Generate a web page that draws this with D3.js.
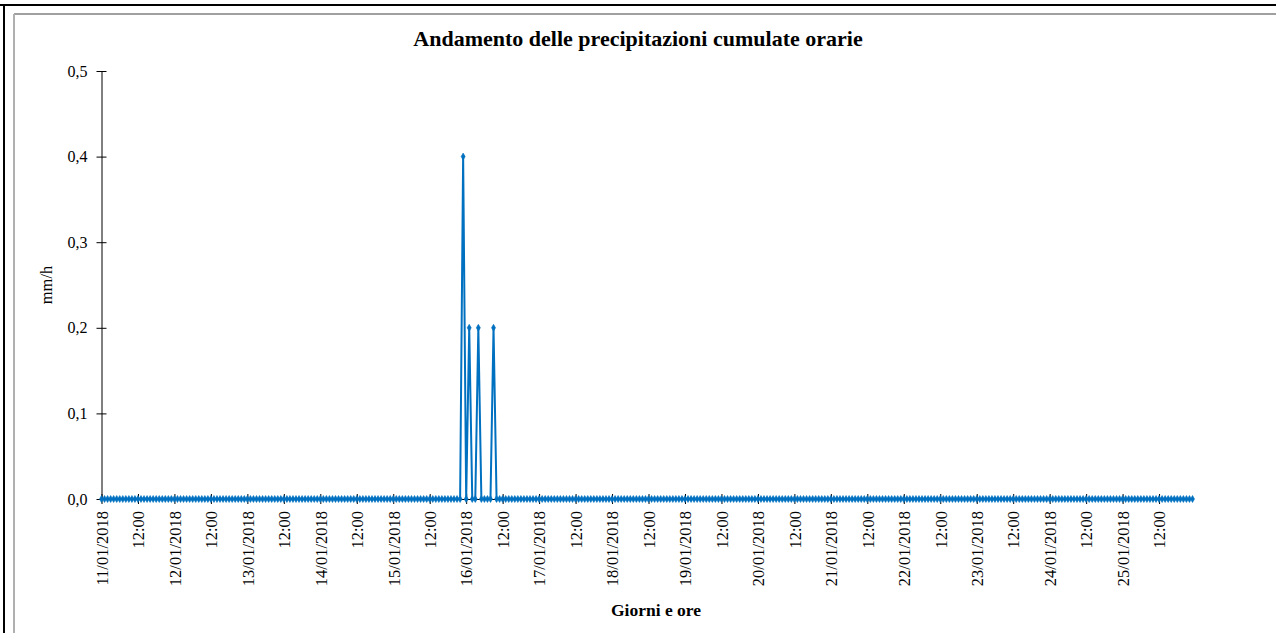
<!DOCTYPE html>
<html>
<head>
<meta charset="utf-8">
<script src="https://cdn.jsdelivr.net/npm/d3@7/dist/d3.min.js"></script>
<style>
  html, body { margin: 0; padding: 0; background: #fff; }
  svg { display: block; }
  text { font-family: "Liberation Serif", "Times New Roman", serif; fill: #000; }
</style>
</head>
<body>
<svg id="chart" width="1276" height="633"></svg>
<script>
// ---- DATA ----
const chartTitle = "Andamento delle precipitazioni cumulate orarie";
const yAxisTitle = "mm/h";
const xAxisTitle = "Giorni e ore";
// hourly values (mm/h), one row per day: 11/01 ... 25/01
const rain = [
  0,0,0,0,0,0,0,0,0,0,0,0,0,0,0,0,0,0,0,0,0,0,0,0, // 11/01
  0,0,0,0,0,0,0,0,0,0,0,0,0,0,0,0,0,0,0,0,0,0,0,0, // 12/01
  0,0,0,0,0,0,0,0,0,0,0,0,0,0,0,0,0,0,0,0,0,0,0,0, // 13/01
  0,0,0,0,0,0,0,0,0,0,0,0,0,0,0,0,0,0,0,0,0,0,0,0, // 14/01
  0,0,0,0,0,0,0,0,0,0,0,0,0,0,0,0,0,0,0,0,0,0,0,0.4, // 15/01
  0,0.2,0,0,0.2,0,0,0,0,0.2,0,0,0,0,0,0,0,0,0,0,0,0,0,0, // 16/01
  0,0,0,0,0,0,0,0,0,0,0,0,0,0,0,0,0,0,0,0,0,0,0,0, // 17/01
  0,0,0,0,0,0,0,0,0,0,0,0,0,0,0,0,0,0,0,0,0,0,0,0, // 18/01
  0,0,0,0,0,0,0,0,0,0,0,0,0,0,0,0,0,0,0,0,0,0,0,0, // 19/01
  0,0,0,0,0,0,0,0,0,0,0,0,0,0,0,0,0,0,0,0,0,0,0,0, // 20/01
  0,0,0,0,0,0,0,0,0,0,0,0,0,0,0,0,0,0,0,0,0,0,0,0, // 21/01
  0,0,0,0,0,0,0,0,0,0,0,0,0,0,0,0,0,0,0,0,0,0,0,0, // 22/01
  0,0,0,0,0,0,0,0,0,0,0,0,0,0,0,0,0,0,0,0,0,0,0,0, // 23/01
  0,0,0,0,0,0,0,0,0,0,0,0,0,0,0,0,0,0,0,0,0,0,0,0, // 24/01
  0,0,0,0,0,0,0,0,0,0,0,0,0,0,0,0,0,0,0,0,0,0,0,0  // 25/01
];
const xTickLabels = [
  "11/01/2018","12:00","12/01/2018","12:00","13/01/2018","12:00",
  "14/01/2018","12:00","15/01/2018","12:00","16/01/2018","12:00",
  "17/01/2018","12:00","18/01/2018","12:00","19/01/2018","12:00",
  "20/01/2018","12:00","21/01/2018","12:00","22/01/2018","12:00",
  "23/01/2018","12:00","24/01/2018","12:00","25/01/2018","12:00"
];
const tickEvery = 12; // one label every 12 hourly categories
const yTicks = [0, 0.1, 0.2, 0.3, 0.4, 0.5];

// ---- CHART ----
const svg = d3.select("#chart");
const W = 1276, H = 633;
const m = { left: 101.5, right: 1192.5, top: 71, bottom: 499 };

// frames (cropped chart area borders)
svg.append("line").attr("x1", 0).attr("x2", W).attr("y1", 5).attr("y2", 5)
  .attr("stroke", "#000").attr("stroke-width", 2);
svg.append("line").attr("x1", 4).attr("x2", 4).attr("y1", 4).attr("y2", H)
  .attr("stroke", "#000").attr("stroke-width", 2);
svg.append("line").attr("x1", 14).attr("x2", W).attr("y1", 14).attr("y2", 14)
  .attr("stroke", "#a0a0a0").attr("stroke-width", 2);
svg.append("line").attr("x1", 14).attr("x2", 14).attr("y1", 14).attr("y2", H)
  .attr("stroke", "#b0b0b0").attr("stroke-width", 2);

const x = d3.scaleLinear().domain([0, rain.length - 1]).range([m.left, m.right]);
const y = d3.scaleLinear().domain([0, 0.5]).range([m.bottom, m.top]);
const fmt = v => d3.format(".1f")(v).replace(".", ",");

// Y axis
const yAxis = d3.axisLeft(y).tickValues(yTicks).tickFormat(fmt).tickSizeInner(5).tickSizeOuter(0).tickPadding(10);
const gy = svg.append("g").attr("transform", `translate(${m.left},0)`).call(yAxis);
gy.select(".domain").attr("stroke", "#000");
gy.selectAll(".tick line").attr("x2", -5).attr("x1", 5).attr("stroke", "#000");
gy.selectAll("text").style("font-family", "Liberation Serif").style("font-size", "16px").attr("x", -14);

// X axis
const tickIdx = xTickLabels.map((_, i) => i * tickEvery);
const xAxis = d3.axisBottom(x).tickValues(tickIdx).tickFormat((d, i) => xTickLabels[i]).tickSizeInner(5).tickSizeOuter(0);
const gx = svg.append("g").attr("transform", `translate(0,${m.bottom})`).call(xAxis);
gx.select(".domain").attr("stroke", "#000");
gx.selectAll(".tick line").attr("y1", -5).attr("y2", 5).attr("stroke", "#000");
gx.selectAll("text")
  .style("font-family", "Liberation Serif").style("font-size", "16.5px")
  .attr("text-anchor", "end")
  .attr("transform", "rotate(-90)")
  .attr("x", -12).attr("y", 0).attr("dy", "0.35em");

// Line
const line = d3.line().x((d, i) => x(i)).y(d => y(d));
svg.append("path").datum(rain)
  .attr("d", line).attr("fill", "none")
  .attr("stroke", "#0070C0").attr("stroke-width", 2).attr("stroke-linejoin", "round");

// Markers (small diamonds)
const sym = d3.symbol().type(d3.symbolDiamond).size(14);
svg.append("g").selectAll("path").data(rain).join("path")
  .attr("d", sym)
  .attr("transform", (d, i) => `translate(${x(i)},${y(d)})`)
  .attr("fill", "#0070C0").attr("stroke", "#0070C0").attr("stroke-width", 0.6);

// Titles
svg.append("text").attr("x", 638).attr("y", 46).attr("text-anchor", "middle")
  .style("font-size", "22px").style("font-weight", "bold").text(chartTitle);
svg.append("text").attr("transform", `translate(52,${(m.top + m.bottom) / 2}) rotate(-90)`)
  .attr("text-anchor", "middle").style("font-size", "16.5px").text(yAxisTitle);
svg.append("text").attr("x", 656).attr("y", 616).attr("text-anchor", "middle")
  .style("font-size", "17.5px").style("font-weight", "bold").text(xAxisTitle);
</script>
</body>
</html>
